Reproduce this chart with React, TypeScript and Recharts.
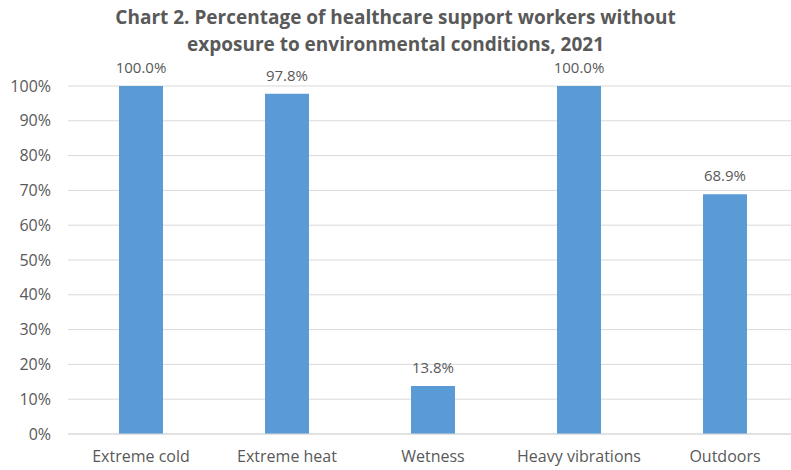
import React from "react";
import { BarChart, Bar, XAxis, YAxis, CartesianGrid, LabelList } from "recharts";

const categories = ["Extreme cold", "Extreme heat", "Wetness", "Heavy vibrations", "Outdoors"];
const shares = [100.0, 97.8, 13.8, 100.0, 68.9];
const yTicks = [0, 10, 20, 30, 40, 50, 60, 70, 80, 90, 100];

const data = categories.map((name, i) => ({ name, share: shares[i] }));

const FONT = "'Open Sans', sans-serif";
const GREY = "#595959";

export default function App() {
  return (
    <div style={{ position: "fixed", top: 0, left: 0, width: 791, height: 470, overflow: "hidden", background: "#fff", fontFamily: FONT }}>
      <div
        style={{
          position: "absolute", top: 4, left: 0, width: 791, textAlign: "center",
          fontWeight: 700, fontSize: 19, lineHeight: "27px", color: GREY,
        }}
      >
        Chart 2. Percentage of healthcare support workers without
        <br />
        exposure to environmental conditions, 2021
      </div>
      <BarChart
        width={800}
        height={470}
        data={data}
        margin={{ top: 86, right: 2, bottom: 0, left: 0 }}
        style={{ position: "absolute", top: 0, left: 0 }}
      >
        <CartesianGrid vertical={false} stroke="#d9d9d9" />
        <XAxis
          dataKey="name"
          height={36}
          tickSize={0}
          tickMargin={17}
          axisLine={{ stroke: "#d9d9d9" }}
          tick={{ fill: GREY, fontSize: 16, fontFamily: FONT }}
        />
        <YAxis
          width={68}
          domain={[0, 100]}
          ticks={yTicks}
          tickFormatter={(v) => `${v}%`}
          axisLine={false}
          tickSize={0}
          tickMargin={17}
          tick={{ fill: GREY, fontSize: 16, fontFamily: FONT }}
        />
        <Bar dataKey="share" fill="#5b9bd5" barSize={44} isAnimationActive={false}>
          <LabelList
            dataKey="share"
            position="top"
            offset={13}
            formatter={(v: any) => `${Number(v).toFixed(1)}%`}
            style={{ fill: GREY, fontSize: 15, fontFamily: FONT }}
          />
        </Bar>
      </BarChart>
    </div>
  );
}
